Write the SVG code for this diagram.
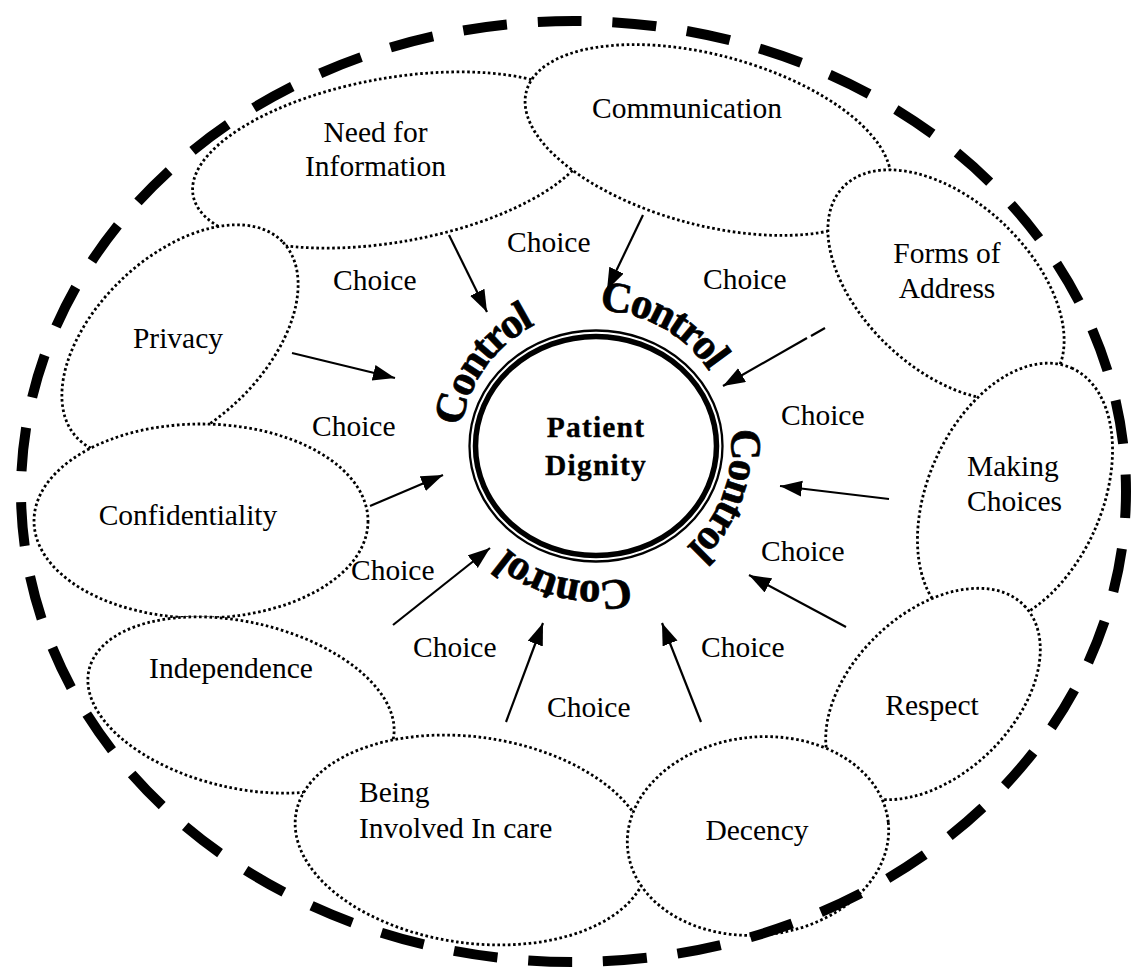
<svg xmlns="http://www.w3.org/2000/svg" width="1132" height="969" viewBox="0 0 1132 969">
<style>
.node{fill:#fff;stroke:#000;stroke-width:2.8;stroke-dasharray:2.6 2.6}
.lbl{font-family:"Liberation Serif","Times New Roman",serif;font-size:29.5px;fill:#000}
.mid{text-anchor:middle}
.ctl{font-family:"Liberation Serif","Times New Roman",serif;font-size:43px;font-weight:bold;letter-spacing:-2px;fill:#000;stroke:#000;stroke-width:0.7;text-anchor:middle}
.pd{font-family:"Liberation Serif","Times New Roman",serif;font-size:29.5px;font-weight:bold;letter-spacing:1.2px;fill:#000;stroke:#000;stroke-width:0.3;text-anchor:middle}
.arr{stroke:#000;stroke-width:2.2;fill:none;marker-end:url(#ah)}
.seg{stroke:#000;stroke-width:2.2;fill:none}
</style>
<defs>
<marker id="ah" markerUnits="userSpaceOnUse" markerWidth="24" markerHeight="18" refX="22" refY="8" orient="auto">
<path d="M0,0 L22,8 L0,16 z" fill="#000"/>
</marker>
<path id="ring" d="M 460.5,446 A 135.5 135.5 0 1 1 731.5,446 A 135.5 135.5 0 1 1 460.5,446"/>
</defs>
<rect width="1132" height="969" fill="#fff"/>
<g id="node-need-for-information">
<ellipse class="node" cx="393" cy="160" rx="203" ry="82" transform="rotate(-10 393 160)"/>
<text class="lbl mid" x="375.5" y="142">Need for</text>
<text class="lbl mid" x="375.5" y="176">Information</text>
</g>
<g id="node-privacy">
<ellipse class="node" cx="180" cy="340" rx="142" ry="84" transform="rotate(-43.5 180 340)"/>
<text class="lbl mid" x="178" y="348">Privacy</text>
</g>
<g id="node-confidentiality">
<ellipse class="node" cx="201" cy="521" rx="167" ry="97"/>
<text class="lbl mid" x="188" y="525">Confidentiality</text>
</g>
<g id="node-independence">
<ellipse class="node" cx="241" cy="705" rx="156" ry="83" transform="rotate(13 241 705)"/>
<text class="lbl mid" x="231" y="678">Independence</text>
</g>
<g id="node-being-involved">
<ellipse class="node" cx="472" cy="840" rx="178" ry="103" transform="rotate(8 472 840)"/>
<text class="lbl" x="359" y="802">Being</text>
<text class="lbl" x="359" y="838">Involved In care</text>
</g>
<g id="node-communication">
<ellipse class="node" cx="708" cy="140" rx="188" ry="85" transform="rotate(15 708 140)"/>
<text class="lbl mid" x="687" y="118">Communication</text>
</g>
<g id="node-forms-of-address">
<ellipse class="node" cx="946" cy="285" rx="142" ry="84" transform="rotate(43.5 946 285)"/>
<text class="lbl mid" x="947" y="263">Forms of</text>
<text class="lbl mid" x="947" y="298">Address</text>
</g>
<g id="node-making-choices">
<ellipse class="node" cx="1015" cy="495" rx="139" ry="87" transform="rotate(-66 1015 495)"/>
<text class="lbl" x="967" y="476">Making</text>
<text class="lbl" x="967" y="511">Choices</text>
</g>
<g id="node-respect">
<ellipse class="node" cx="933" cy="694" rx="127" ry="81" transform="rotate(-44 933 694)"/>
<text class="lbl mid" x="932" y="715">Respect</text>
</g>
<g id="node-decency">
<ellipse class="node" cx="758" cy="836" rx="131" ry="99" transform="rotate(-6 758 836)"/>
<text class="lbl mid" x="757" y="840">Decency</text>
</g>
<g id="node-patient-dignity">
<ellipse cx="596" cy="446" rx="126.5" ry="115.5" fill="#fff" stroke="#000" stroke-width="2.3"/>
<ellipse cx="596" cy="446" rx="120.5" ry="109.5" fill="none" stroke="#000" stroke-width="5.5"/>
<text class="pd" x="596" y="437">Patient</text>
<text class="pd" x="596" y="475">Dignity</text>
<text class="ctl"><textPath href="#ring" startOffset="83.6">Control</textPath></text>
<text class="ctl"><textPath href="#ring" startOffset="280.4">Control</textPath></text>
<text class="ctl"><textPath href="#ring" startOffset="473.1">Control</textPath></text>
<text class="ctl"><textPath href="#ring" startOffset="668.9">Control</textPath></text>
</g>
<g id="boundary">
<ellipse cx="573.5" cy="491.5" rx="552.5" ry="470.5" fill="none" stroke="#000" stroke-width="10" stroke-dasharray="44 30.86" stroke-dashoffset="17.46"/>
</g>
<g id="connectors">
<line class="arr" x1="449" y1="235" x2="487" y2="312"/>
<line class="arr" x1="643" y1="215" x2="607" y2="290"/>
<line class="seg" x1="825" y1="328" x2="811" y2="336"/>
<line class="arr" x1="807" y1="338" x2="723" y2="386"/>
<line class="arr" x1="889" y1="499" x2="780" y2="486"/>
<line class="arr" x1="846" y1="627" x2="749" y2="575"/>
<line class="arr" x1="701" y1="722" x2="662" y2="623"/>
<line class="arr" x1="506" y1="722" x2="543" y2="623"/>
<line class="arr" x1="393" y1="625" x2="490" y2="548"/>
<line class="arr" x1="370" y1="506" x2="443" y2="475"/>
<line class="arr" x1="292" y1="353" x2="395" y2="378"/>
</g>
<g id="choice-labels">
<text class="lbl" x="507" y="252">Choice</text>
<text class="lbl" x="333" y="290">Choice</text>
<text class="lbl" x="703" y="289">Choice</text>
<text class="lbl" x="312" y="436">Choice</text>
<text class="lbl" x="781" y="425">Choice</text>
<text class="lbl" x="761" y="561">Choice</text>
<text class="lbl" x="351" y="580">Choice</text>
<text class="lbl" x="413" y="657">Choice</text>
<text class="lbl" x="701" y="657">Choice</text>
<text class="lbl" x="547" y="717">Choice</text>
</g>
</svg>
